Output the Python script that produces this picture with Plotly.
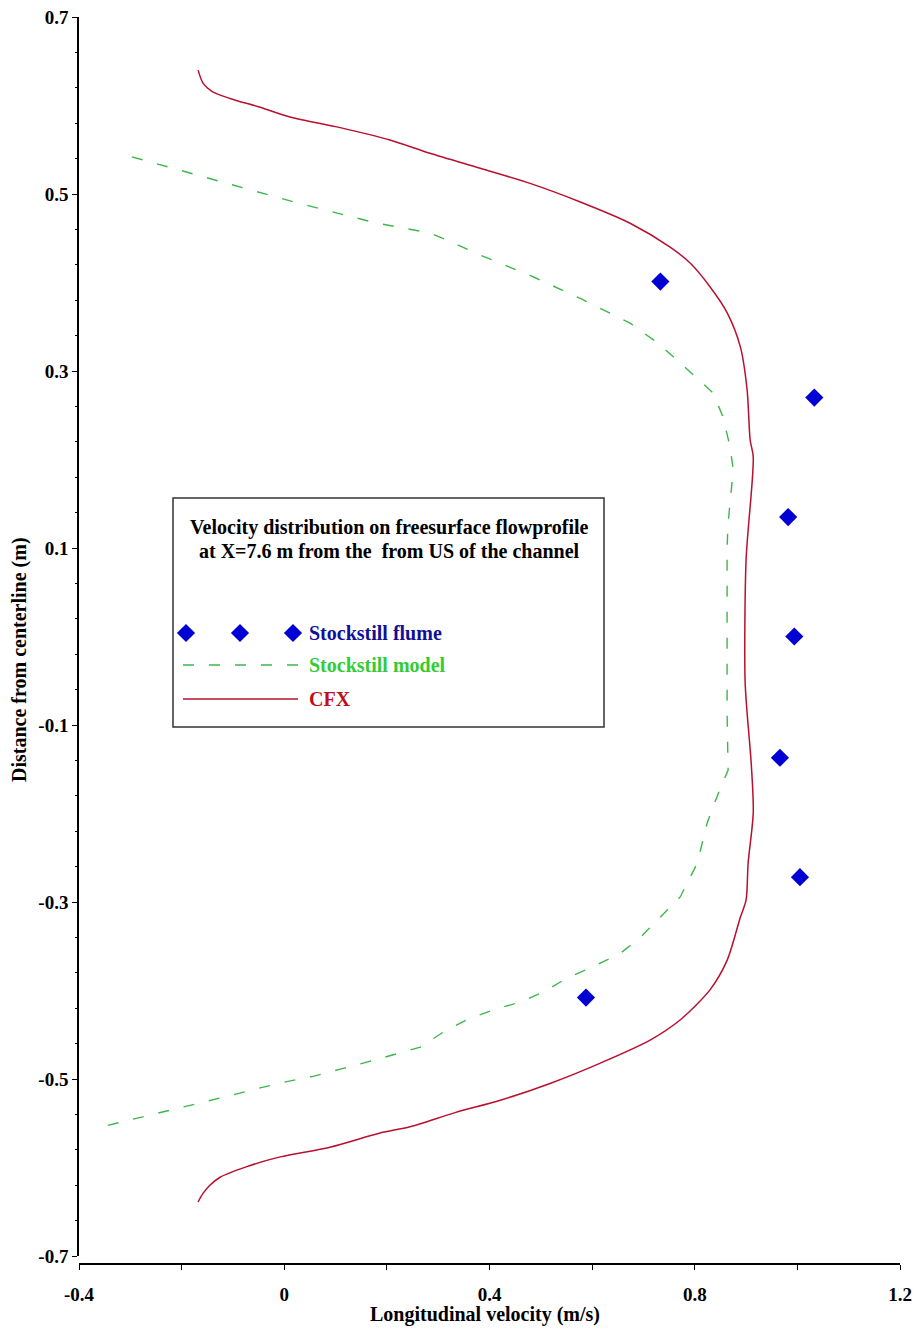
import plotly.graph_objects as go

# ---- measured / simulated profiles -------------------------------------
flume_velocity = [0.733, 1.033, 0.982, 0.994, 0.966, 1.005, 0.588]
flume_distance = [0.401, 0.270, 0.135, 0.000, -0.137, -0.272, -0.408]

model_velocity = [-0.297, -0.184, -0.080, 0.025, 0.181, 0.226, 0.284, 0.329,
                  0.382, 0.479, 0.577, 0.674, 0.727, 0.772, 0.836, 0.855,
                  0.869, 0.875, 0.865, 0.863, 0.863, 0.865, 0.846, 0.824,
                  0.805, 0.772, 0.733, 0.694, 0.655, 0.602, 0.551, 0.504,
                  0.460, 0.407, 0.356, 0.310, 0.265, 0.212, 0.161, 0.115,
                  0.056, 0.005, -0.047, -0.100, -0.150, -0.203, -0.256,
                  -0.306, -0.363]
model_distance = [0.542, 0.524, 0.507, 0.490, 0.467, 0.462, 0.456, 0.445,
                  0.431, 0.408, 0.382, 0.354, 0.332, 0.309, 0.275, 0.248,
                  0.214, 0.188, 0.128, 0.101, -0.086, -0.151, -0.177, -0.211,
                  -0.256, -0.294, -0.317, -0.340, -0.358, -0.373, -0.386,
                  -0.402, -0.413, -0.422, -0.433, -0.447, -0.464, -0.473,
                  -0.481, -0.488, -0.497, -0.503, -0.510, -0.518, -0.525,
                  -0.532, -0.540, -0.547, -0.555]

cfx_velocity = [-0.168, -0.158, -0.141, -0.106, -0.047, 0.011, 0.109, 0.206,
                0.284, 0.382, 0.479, 0.577, 0.674, 0.752, 0.791, 0.830,
                0.863, 0.889, 0.902, 0.908, 0.914, 0.900, 0.898, 0.902,
                0.910, 0.914, 0.904, 0.900, 0.889, 0.863, 0.830, 0.772,
                0.713, 0.616, 0.518, 0.421, 0.333, 0.245, 0.187, 0.089,
                -0.008, -0.073, -0.125, -0.145, -0.158, -0.168]
cfx_distance = [0.640, 0.625, 0.616, 0.608, 0.598, 0.587, 0.575, 0.561,
                0.546, 0.529, 0.512, 0.491, 0.467, 0.440, 0.422, 0.395,
                0.366, 0.327, 0.279, 0.222, 0.203, 0.086, -0.049, -0.086,
                -0.143, -0.199, -0.256, -0.298, -0.317, -0.366, -0.399,
                -0.433, -0.456, -0.482, -0.505, -0.524, -0.538, -0.554,
                -0.561, -0.577, -0.588, -0.599, -0.611, -0.620, -0.629,
                -0.639]

y_ticks = [0.7, 0.5, 0.3, 0.1, -0.1, -0.3, -0.5, -0.7]
y_labels = ["0.7", "0.5", "0.3", "0.1", "-0.1", "-0.3", "-0.5", "-0.7"]
x_ticks = [-0.4, 0.0, 0.4, 0.8, 1.2]
x_labels = ["-0.4", "0", "0.4", "0.8", "1.2"]

x_title = "Longitudinal velocity (m/s)"
y_title = "Distance from centerline (m)"
legend_title = ["Velocity distribution on freesurface flowprofile",
                "at X=7.6 m from the  from US of the channel"]
series_names = ["Stockstill flume", "Stockstill model", "CFX"]

# ---- styling ------------------------------------------------------------
W, H = 917, 1336
ML, MR, MT, MB = 79, 17, 17, 72
PW, PH = W - ML - MR, H - MT - MB
FONT = "Liberation Serif"
BLUE, GREEN, RED = "#0000d4", "#3cb84a", "#b8102e"
TXT_BLUE, TXT_GREEN, TXT_RED = "#10109a", "#33cc33", "#c0101a"
TEXT_SIZE = 20
TICK_SIZE = 19


def px_x(px):
    return (px - ML) / PW


def px_y(py):
    return (H - MB - py) / PH


fig = go.Figure()

fig.add_trace(go.Scatter(
    x=model_velocity, y=model_distance, mode="lines",
    line=dict(color=GREEN, width=1.4, dash="11px,15px"),
    showlegend=False, hoverinfo="skip"))
fig.add_trace(go.Scatter(
    x=cfx_velocity, y=cfx_distance, mode="lines",
    line=dict(color=RED, width=1.5, shape="spline", smoothing=0.8),
    showlegend=False, hoverinfo="skip"))
fig.add_trace(go.Scatter(
    x=flume_velocity, y=flume_distance, mode="markers",
    marker=dict(symbol="diamond", size=14, color=BLUE,
                line=dict(width=0)),
    showlegend=False, hoverinfo="skip"))

# legend keys on a full-page overlay axis (paper units)
fig.add_trace(go.Scatter(
    x=[px_x(186), px_x(240), px_x(293)], y=[px_y(633)] * 3,
    mode="markers", xaxis="x2", yaxis="y2",
    marker=dict(symbol="diamond", size=14, color=BLUE, line=dict(width=0)),
    showlegend=False, hoverinfo="skip"))
fig.add_trace(go.Scatter(
    x=[px_x(183), px_x(298)], y=[px_y(665)] * 2, mode="lines",
    xaxis="x2", yaxis="y2",
    line=dict(color=GREEN, width=1.4, dash="11px,15px"),
    showlegend=False, hoverinfo="skip"))
fig.add_trace(go.Scatter(
    x=[px_x(183), px_x(298)], y=[px_y(699)] * 2, mode="lines",
    xaxis="x2", yaxis="y2", line=dict(color=RED, width=1.5),
    showlegend=False, hoverinfo="skip"))

annotations = []
for i, line_text in enumerate(legend_title):
    annotations.append(dict(
        x=px_x(389), y=px_y(527 + 24 * i), xref="paper", yref="paper",
        text=f"<b>{line_text}</b>", showarrow=False,
        xanchor="center", yanchor="middle",
        font=dict(family=FONT, size=TEXT_SIZE, color="#000000")))
for name, yy, col in zip(series_names, [633, 665, 699],
                         [TXT_BLUE, TXT_GREEN, TXT_RED]):
    annotations.append(dict(
        x=px_x(307), y=px_y(yy), xref="paper", yref="paper",
        text=f"<b>{name}</b>", showarrow=False,
        xanchor="left", yanchor="middle",
        font=dict(family=FONT, size=TEXT_SIZE, color=col)))

# axis titles
annotations.append(dict(
    x=px_x(485), y=px_y(1314), xref="paper", yref="paper",
    text=f"<b>{x_title}</b>", showarrow=False,
    xanchor="center", yanchor="middle",
    font=dict(family=FONT, size=TEXT_SIZE, color="black")))
annotations.append(dict(
    x=px_x(20), y=px_y(660), xref="paper", yref="paper",
    text=f"<b>{y_title}</b>", showarrow=False, textangle=-90,
    xanchor="center", yanchor="middle",
    font=dict(family=FONT, size=TEXT_SIZE, color="black")))

shapes = [dict(type="rect", xref="paper", yref="paper",
               x0=px_x(173), x1=px_x(604), y0=px_y(498), y1=px_y(727),
               line=dict(color="#333333", width=1.5), fillcolor="rgba(0,0,0,0)")]

fig.update_layout(
    width=W, height=H,
    margin=dict(l=ML, r=MR, t=MT, b=MB, pad=0, autoexpand=False),
    paper_bgcolor="white", plot_bgcolor="rgba(0,0,0,0)",
    font=dict(family=FONT, size=TEXT_SIZE, color="black"),
    annotations=annotations, shapes=shapes,
    xaxis=dict(
        range=[-0.4, 1.2], anchor="free", position=0, automargin=False,
        showgrid=False, zeroline=False, showline=True,
        linecolor="black", linewidth=1.5,
        tickvals=x_ticks, ticktext=[f"<b>{t}</b>" for t in x_labels],
        ticks="outside", ticklen=5, tickwidth=1.2, tickcolor="black",
        ticklabelstandoff=8,
        tickfont=dict(family=FONT, size=TICK_SIZE),
        minor=dict(tickvals=[-0.2, 0.2, 0.6, 1.0], ticks="outside",
                   ticklen=5, tickwidth=1.2, tickcolor="black"),
    ),
    yaxis=dict(
        range=[-0.7, 0.7], domain=[px_y(1256), 1.0], automargin=False,
        showgrid=False, zeroline=False, showline=True,
        linecolor="black", linewidth=1.5,
        tickvals=y_ticks, ticktext=[f"<b>{t}</b>" for t in y_labels],
        ticks="outside", ticklen=5, tickwidth=1.2, tickcolor="black",
        tickfont=dict(family=FONT, size=TICK_SIZE),
        minor=dict(tickvals=[round(-0.7 + 0.04 * k, 2) for k in range(36)],
                   ticks="outside", ticklen=2, tickwidth=1, tickcolor="black"),
    ),
    xaxis2=dict(range=[0, 1], domain=[0, 1], anchor="y2", visible=False,
                fixedrange=True, automargin=False),
    yaxis2=dict(range=[0, 1], domain=[0, 1], anchor="x2", visible=False,
                fixedrange=True, automargin=False),
)

fig.write_html("out.html")
